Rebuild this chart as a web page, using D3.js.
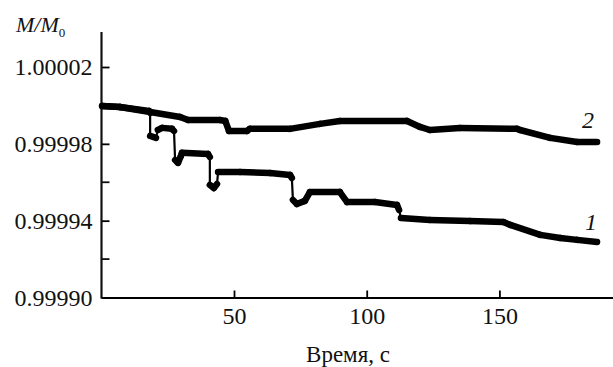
<!DOCTYPE html>
<html>
<head>
<meta charset="utf-8">
<script src="https://cdn.jsdelivr.net/npm/d3@7"></script>
</head>
<body style="margin:0">
<script>
// time, s
var time1 = [0.3, 7.0, 18.0, 18.4, 18.4, 20.6, 21.3, 22.9, 26.6, 27.4, 27.8, 28.9, 30.0, 30.4, 40.2, 40.9, 40.9, 42.4, 43.6, 44.0,
    52.3, 63.6, 71.1, 71.8, 72.2, 73.7, 76.7, 78.6, 89.9, 92.6, 103.1, 111.4, 112.2, 112.9, 123.8, 138.9, 151.5, 154.1, 165.4, 172.9, 179.3, 186.8];
// M/M0 for curve 1
var value1 = [0.9999997, 0.9999992, 0.9999971, 0.9999961, 0.9999841, 0.9999831, 0.9999872, 0.9999883, 0.9999878, 0.9999867,
    0.9999716, 0.9999701, 0.9999737, 0.9999753, 0.9999747, 0.9999732, 0.9999586, 0.999957, 0.9999591, 0.9999654,
    0.9999654, 0.9999648, 0.9999638, 0.9999622, 0.9999508, 0.9999487, 0.9999503, 0.9999549, 0.9999549, 0.9999497,
    0.9999497, 0.9999482, 0.9999456, 0.9999414, 0.9999404, 0.9999398, 0.9999393, 0.9999378, 0.9999326, 0.999931, 0.99993, 0.9999289];

var time2 = [0.3, 7.0, 18.4, 29.7, 32.7, 44.7, 46.7, 48.1, 54.9, 56.0, 71.1, 82.4, 89.9, 115.2, 120.1, 123.8, 135.1, 156.6, 157.8, 169.1, 179.3, 186.8];
var value2 = [0.9999997, 0.9999992, 0.9999966, 0.999994, 0.9999924, 0.9999924, 0.9999919, 0.9999867, 0.9999867, 0.9999878,
    0.9999878, 0.9999904, 0.9999919, 0.9999919, 0.9999888, 0.9999872, 0.9999883, 0.9999878, 0.9999872, 0.9999831, 0.999981, 0.999981];

var yTicks = [0.99990, 0.99994, 0.99998, 1.00002];
var yMinorTicks = [0.99992, 0.99996, 1.00000];
var xTicks = [50, 100, 150];

var W = 613, H = 367;
var fontName = "Liberation Serif";

var svg = d3.select("body").append("svg")
    .attr("width", W)
    .attr("height", H)
    .attr("font-family", fontName);

var x = d3.scaleLinear().domain([0, 192.8]).range([101.3, 613]);
var y = d3.scaleLinear().domain([0.99990, 1.00002]).range([297.5, 67]);

// axes (ticks point inward)
svg.append("g")
    .attr("transform", "translate(0,297.5)")
    .call(d3.axisBottom(x).tickValues(xTicks).tickSizeInner(-7).tickSizeOuter(0).tickFormat(d3.format("d")))
    .call(g => g.select(".domain").attr("stroke-width", 2.2))
    .call(g => g.selectAll(".tick line").attr("stroke-width", 1.8))
    .call(g => g.selectAll(".tick text").attr("y", 9).attr("dy", "0.71em").attr("fill", "#111")
        .attr("font-family", fontName).attr("font-size", 24));

svg.append("g")
    .attr("transform", "translate(101.5,0)")
    .call(d3.axisLeft(y).tickValues(yTicks).tickSizeInner(-8).tickSizeOuter(0).tickFormat(d3.format(".5f")))
    .call(g => g.select(".domain").remove())
    .call(g => g.selectAll(".tick line").attr("stroke-width", 1.8))
    .call(g => g.selectAll(".tick text").attr("x", -9).attr("fill", "#111")
        .attr("font-family", fontName).attr("font-size", 24));

svg.append("g")
    .selectAll("line")
    .data(yMinorTicks)
    .enter()
    .append("line")
    .attr("x1", 101.5).attr("x2", 109.5)
    .attr("y1", d => y(d)).attr("y2", d => y(d))
    .attr("stroke", "#111").attr("stroke-width", 1.8);

svg.append("line")
    .attr("x1", 101.5).attr("x2", 101.5)
    .attr("y1", 32).attr("y2", 298.6)
    .attr("stroke", "#111").attr("stroke-width", 2.2);

// draw a curve: thick plateaus, thin steep drops
function drawCurve(times, values) {
    var pts = times.map((t, i) => [x(t), y(values[i])]);
    var segs = d3.pairs(pts);
    svg.append("g")
        .selectAll("line")
        .data(segs)
        .enter()
        .append("line")
        .attr("x1", d => d[0][0]).attr("y1", d => d[0][1])
        .attr("x2", d => d[1][0]).attr("y2", d => d[1][1])
        .attr("stroke", "#000")
        .attr("stroke-linecap", "round")
        .attr("stroke-width", d => {
            var dx = Math.abs(d[1][0] - d[0][0]), dy = Math.abs(d[1][1] - d[0][1]);
            return dy > 3 * dx && dy > 4 ? 2.2 : 6.5;
        });
}

drawCurve(time1, value1);
drawCurve(time2, value2);

// curve labels
svg.append("text").attr("x", 582).attr("y", 128).attr("fill", "#111")
    .attr("font-family", fontName).attr("font-size", 24).attr("font-style", "italic").text("2");
svg.append("text").attr("x", 585).attr("y", 230).attr("fill", "#111")
    .attr("font-family", fontName).attr("font-size", 24).attr("font-style", "italic").text("1");

// axis titles
var yl = svg.append("text").attr("x", 16).attr("y", 32).attr("fill", "#111")
    .attr("font-family", fontName).attr("font-size", 22).attr("font-style", "italic");
yl.append("tspan").text("M/M");
yl.append("tspan").attr("dy", 5).attr("font-size", 13).attr("font-style", "normal").text("0");

svg.append("text").attr("x", 348).attr("y", 362).attr("fill", "#111")
    .attr("font-family", fontName).attr("font-size", 23).attr("text-anchor", "middle").text("Время, с");
</script>
</body>
</html>
